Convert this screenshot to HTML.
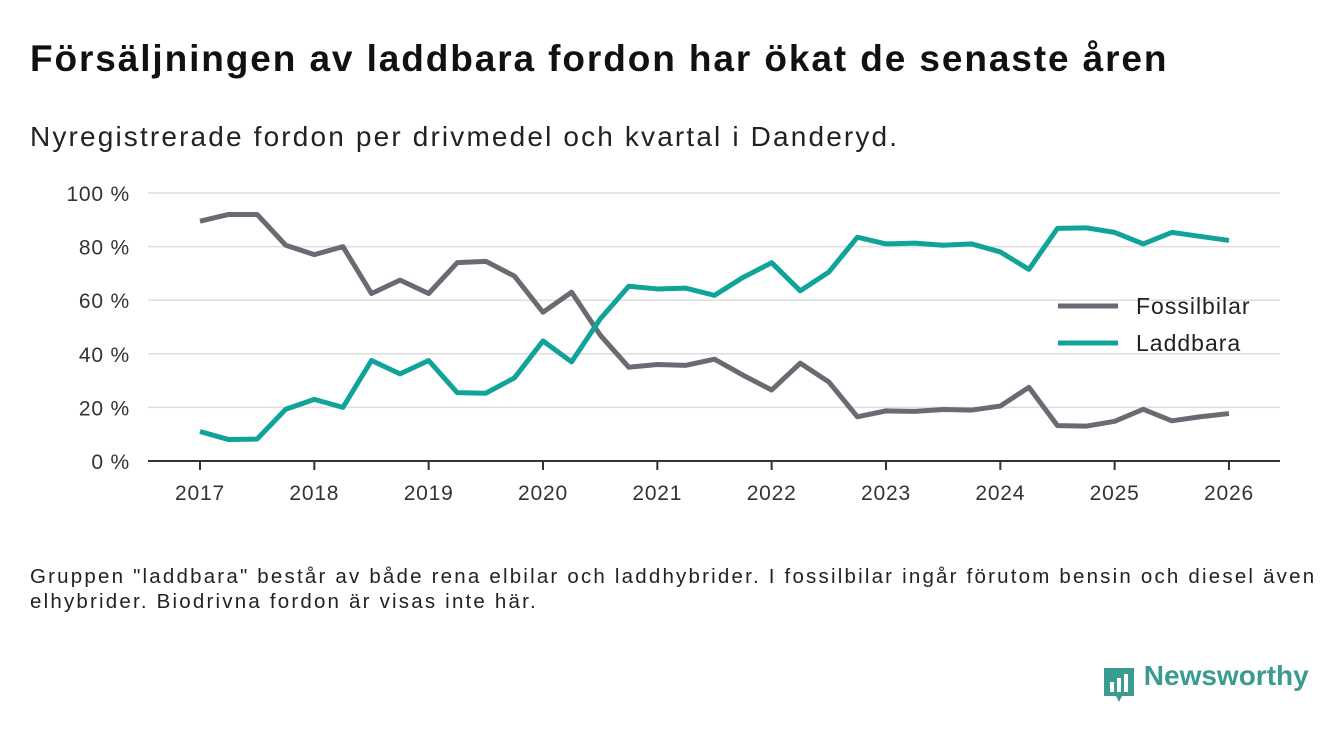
<!DOCTYPE html>
<html><head><meta charset="utf-8"><style>
body{margin:0;width:1340px;height:733px;background:#fff;font-family:"Liberation Sans",sans-serif;overflow:hidden;position:relative}
#title{position:absolute;left:30px;top:38px;font-size:37px;letter-spacing:1.9px;font-weight:bold;color:#111;margin:0;white-space:nowrap}
#sub{position:absolute;left:30px;top:121px;font-size:28px;letter-spacing:2.15px;color:#222;white-space:nowrap}
#note{position:absolute;left:30px;top:564px;font-size:20.5px;letter-spacing:2.2px;line-height:25px;color:#222;width:1300px;white-space:nowrap}
#logo{position:absolute;left:1102px;top:660px;font-size:28px;font-weight:bold;color:#3a9b91}
svg{position:absolute;left:0;top:0}
</style></head><body>
<h1 id="title">Försäljningen av laddbara fordon har ökat de senaste åren</h1>
<div id="sub">Nyregistrerade fordon per drivmedel och kvartal i Danderyd.</div>
<svg id="chart" width="1340" height="733"></svg>
<div id="note">Gruppen "laddbara" består av både rena elbilar och laddhybrider. I fossilbilar ingår förutom bensin och diesel även<br>elhybrider. Biodrivna fordon är visas inte här.</div>
<div id="logo"><svg width="34" height="40" style="position:relative;left:0;top:6px;display:inline-block;vertical-align:middle"><path d="M2 2h30v28H20l-3 6-3-6H2z" fill="#3a9b91"/><rect x="8" y="16" width="4" height="10" fill="#fff"/><rect x="15" y="12" width="4" height="14" fill="#fff"/><rect x="22" y="8" width="4" height="18" fill="#fff"/></svg> <span style="position:relative;top:-2px">Newsworthy</span></div>
<script>
const yearTicks=[2017,2018,2019,2020,2021,2022,2023,2024,2025,2026];
const yTicks=[0,20,40,60,80,100];
const startYear=2017;
const fossil=[89.5,92,92,80.5,77,80,62.5,67.5,62.5,74,74.5,69,55.5,63,47,35,36,35.7,38,32,26.5,36.5,29.5,16.5,18.7,18.5,19.2,19,20.5,27.5,13.2,13,14.8,19.3,15,16.5,17.7];
const laddbara=[11,8,8.2,19.3,23,20,37.5,32.5,37.5,25.5,25.3,31,44.8,37,53,65.2,64.2,64.5,61.8,68.5,74,63.5,70.5,83.5,81,81.3,80.5,81,78,71.5,86.8,87,85.3,81,85.3,83.8,82.3];
const NS="http://www.w3.org/2000/svg",svg=document.getElementById('chart');
const x=t=>200+(t-2017)*114.33, y=v=>461-v*2.68;
function mk(tag,a){const e=document.createElementNS(NS,tag);for(const k in a)e.setAttribute(k,a[k]);svg.appendChild(e);return e;}
yTicks.forEach(v=>{
 const g=mk('line',{x1:148,x2:1280,y1:y(v),y2:y(v),stroke:v?'#ddd':'#333','stroke-width':v?1.5:2});
 
 
 const t=mk('text',{x:130,y:y(v)+8,'text-anchor':'end','font-size':21,'letter-spacing':0.8,fill:'#333','font-family':'Liberation Sans'});t.textContent=v+' %';
 
 
});
yearTicks.forEach(yr=>{
 const l=mk('line',{x1:x(yr),x2:x(yr),y1:461,y2:470,stroke:'#333','stroke-width':2});
 
 
 const t=mk('text',{x:x(yr),y:500,'text-anchor':'middle','font-size':21,'letter-spacing':0.8,fill:'#333','font-family':'Liberation Sans'});t.textContent=yr;
 
 
});
function line(d,c,name){const p=mk('polyline',{points:d.map((v,i)=>x(startYear+i/4)+','+y(v)).join(' '),fill:'none',stroke:c,'stroke-width':5,'stroke-linejoin':'round'});
 
 }
line(fossil,'#6b6a72','line-fossilbilar');
line(laddbara,'#10a39a','line-laddbara');
[['Fossilbilar','#6b6a72',306],['Laddbara','#10a39a',343]].forEach(([n,c,yy])=>{
 const l=mk('line',{x1:1058,x2:1118,y1:yy,y2:yy,stroke:c,'stroke-width':5});
 
 
 const t=mk('text',{x:1136,y:yy+8,'font-size':23,'letter-spacing':1,fill:'#222','font-family':'Liberation Sans'});t.textContent=n;
 
 
});
</script>
</body></html>
